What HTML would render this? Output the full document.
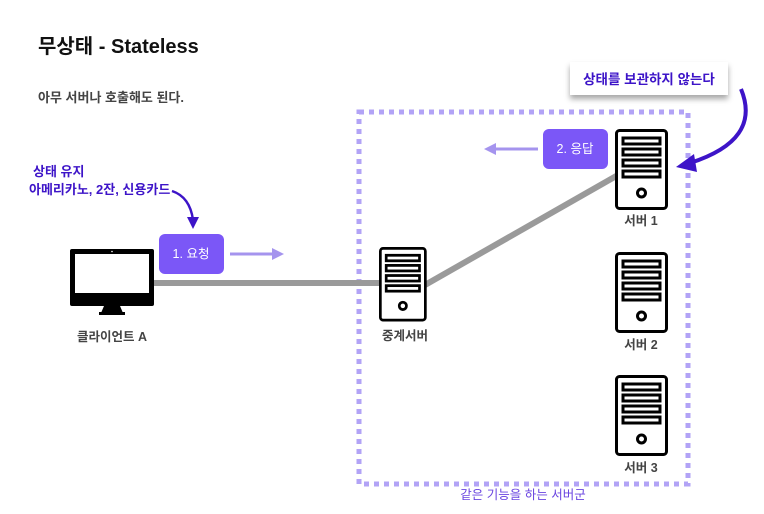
<!DOCTYPE html>
<html><head><meta charset="utf-8"><style>
body{margin:0;background:#fff;}
svg{display:block;font-family:"Liberation Sans","Noto Sans CJK KR",sans-serif;}
</style></head><body>
<svg width="764" height="514" viewBox="0 0 764 514" xmlns="http://www.w3.org/2000/svg">
<defs>
<filter id="sh" x="-10%" y="-20%" width="120%" height="160%"><feDropShadow dx="0" dy="4" stdDeviation="3" flood-color="#000" flood-opacity="0.35"/></filter>
<g id="srv">
<rect x="1.5" y="1.5" width="50" height="78" rx="3" fill="#fff" stroke="#000" stroke-width="3"/>
<rect x="8" y="9" width="37" height="6" fill="#fff" stroke="#000" stroke-width="3"/>
<rect x="8" y="20" width="37" height="6" fill="#fff" stroke="#000" stroke-width="3"/>
<rect x="8" y="31" width="37" height="6" fill="#fff" stroke="#000" stroke-width="3"/>
<rect x="8" y="42" width="37" height="6" fill="#fff" stroke="#000" stroke-width="3"/>
<circle cx="26.5" cy="64" r="4" fill="#fff" stroke="#000" stroke-width="3"/>
</g>
</defs>
<text x="38" y="53" font-size="20" font-weight="bold" fill="#111">무상태 - Stateless</text>
<text x="38" y="102" font-size="13" font-weight="bold" fill="#444">아무 서버나 호출해도 된다.</text>
<rect x="359" y="112" width="329" height="372" fill="none" stroke="#b2a3f6" stroke-width="5" stroke-dasharray="5 5"/>
<line x1="150" y1="283" x2="385" y2="283" stroke="#9a9a9a" stroke-width="6"/>
<line x1="425" y1="285" x2="618" y2="175" stroke="#9a9a9a" stroke-width="6"/>
<rect x="70" y="249" width="84" height="57" rx="2" fill="#000"/>
<rect x="75" y="254" width="74" height="39" fill="#fff"/>
<circle cx="112" cy="251.5" r="0.8" fill="#fff"/>
<polygon points="104,306 120,306 123,313 101,313" fill="#000"/>
<rect x="99" y="312" width="26" height="3" fill="#000"/>
<text x="112" y="341" font-size="12.5" font-weight="bold" fill="#444" text-anchor="middle">클라이언트 A</text>
<use href="#srv" transform="translate(379,247) scale(0.9,0.92)"/>
<text x="405" y="340" font-size="12.5" font-weight="bold" fill="#444" text-anchor="middle">중계서버</text>
<use href="#srv" x="615" y="129"/>
<text x="641" y="225" font-size="12.5" font-weight="bold" fill="#444" text-anchor="middle">서버 1</text>
<use href="#srv" x="615" y="252"/>
<text x="641" y="349" font-size="12.5" font-weight="bold" fill="#444" text-anchor="middle">서버 2</text>
<use href="#srv" x="615" y="375"/>
<text x="641" y="472" font-size="12.5" font-weight="bold" fill="#444" text-anchor="middle">서버 3</text>
<rect x="159" y="234" width="65" height="40" rx="6" fill="#7b57f7"/>
<text x="191" y="258" font-size="12.5" fill="#fff" text-anchor="middle">1. 요청</text>
<line x1="230" y1="254" x2="276" y2="254" stroke="#a594ee" stroke-width="3"/>
<polygon points="284,254 272,248 272,260" fill="#a594ee"/>
<rect x="543" y="129" width="65" height="40" rx="6" fill="#7b57f7"/>
<text x="575" y="153" font-size="12.5" fill="#fff" text-anchor="middle">2. 응답</text>
<line x1="538" y1="149" x2="492" y2="149" stroke="#a594ee" stroke-width="3"/>
<polygon points="484,149 496,143 496,155" fill="#a594ee"/>
<text x="33" y="176" font-size="13" font-weight="bold" fill="#3d14c8">상태 유지</text>
<text x="29" y="194" font-size="13" font-weight="bold" fill="#3d14c8">아메리카노, 2잔, 신용카드</text>
<path d="M172,191 Q190,197 193,220" fill="none" stroke="#3d14c8" stroke-width="2.5"/>
<polygon points="193,229 187,217 199,217" fill="#3d14c8"/>
<rect x="570" y="62" width="158" height="33" fill="#fff" filter="url(#sh)"/>
<text x="649" y="84" font-size="13.5" font-weight="bold" fill="#3d14c8" text-anchor="middle">상태를 보관하지 않는다</text>
<path d="M741,89 Q762,140 690,163" fill="none" stroke="#3d14c8" stroke-width="4"/>
<polygon points="676,167 694,154 697,172" fill="#3d14c8"/>
<text x="523" y="499" font-size="12.5" fill="#6a45e0" text-anchor="middle">같은 기능을 하는 서버군</text>
</svg>
</body></html>
